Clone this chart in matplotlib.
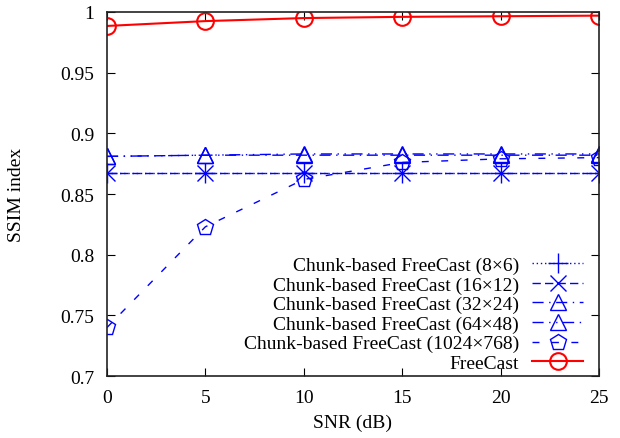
import numpy as np
import matplotlib
matplotlib.use('Agg')
from matplotlib import pyplot as plt
from matplotlib.ticker import FuncFormatter

plt.rcParams['font.family'] = ['Liberation Serif', 'DejaVu Serif']
plt.rcParams['mathtext.fontset'] = 'stix'

snr = [0, 5, 10, 15, 20, 25]
ssim_8x6 = [0.867, 0.867, 0.867, 0.867, 0.867, 0.867]
ssim_16x12 = [0.867, 0.867, 0.867, 0.867, 0.867, 0.867]
ssim_32x24 = [0.881, 0.882, 0.882, 0.882, 0.882, 0.882]
ssim_64x48 = [0.881, 0.882, 0.883, 0.883, 0.883, 0.883]
ssim_1024x768 = [0.740, 0.823, 0.862, 0.876, 0.879, 0.880]
ssim_freecast = [0.9885, 0.9925, 0.995, 0.996, 0.9965, 0.997]

blue = '#0000ff'
red = '#ff0000'
fs = 14

fig = plt.figure(figsize=(6.2, 4.39), dpi=100)
ax = fig.add_axes([0.1726, 0.1412, 0.7935, 0.8292])

ax.plot(snr, ssim_8x6, color=blue, lw=1, ls=(0, (1, 2)), marker='+', ms=14,
        mew=1, label='Chunk-based FreeCast (8\u00d76)')
ax.plot(snr, ssim_16x12, color=blue, lw=1, ls=(0, (6, 3)), marker='x', ms=12,
        mew=1, label='Chunk-based FreeCast (16\u00d712)')
ax.plot(snr, ssim_32x24, color=blue, lw=1, ls=(0, (8, 4, 1, 4)), marker='^',
        ms=11, mfc='none', mew=1, label='Chunk-based FreeCast (32\u00d724)')
ax.plot(snr, ssim_64x48, color=blue, lw=1, ls=(0, (8, 4, 1, 4, 1, 4)),
        marker='^', ms=11, mfc='none', mew=1,
        label='Chunk-based FreeCast (64\u00d748)')
ax.plot(snr, ssim_1024x768, color=blue, lw=1, ls=(0, (5, 9)), marker='p',
        ms=12, mfc='none', mew=1, label='Chunk-based FreeCast (1024\u00d7768)')
ax.plot(snr, ssim_freecast, color=red, lw=1.5, marker='o', ms=12, mfc='none',
        mew=1.5, label='FreeCast')

ax.set_xlim(0, 25)
ax.set_ylim(0.7, 1.0)
ax.set_xticks(np.arange(0, 26, 5))
ax.set_yticks(np.arange(0.7, 1.001, 0.05))
ax.yaxis.set_major_formatter(FuncFormatter(lambda v, p: '%g' % round(v, 2)))
ax.tick_params(direction='in', top=True, right=True, length=6, labelsize=fs,
               width=0.8)
ax.tick_params(axis='x', pad=9)
ax.tick_params(axis='y', pad=9)
for s in ax.spines.values():
    s.set_linewidth(1.2)
    s.set_color('#222222')

ax.set_xlabel('SNR (dB)', fontsize=fs, labelpad=6)
ax.set_ylabel('SSIM index', fontsize=fs, labelpad=26)

# key sits in the lower right, text right-aligned left of the samples
ax.legend(loc='lower right', bbox_to_anchor=(0.9675, 0.011), frameon=False,
          markerfirst=False, fontsize=fs, handlelength=2.6,
          labelspacing=0.1, borderaxespad=0.0, handletextpad=0.7,
          borderpad=0.0)

fig.savefig('out.png', dpi=100)
